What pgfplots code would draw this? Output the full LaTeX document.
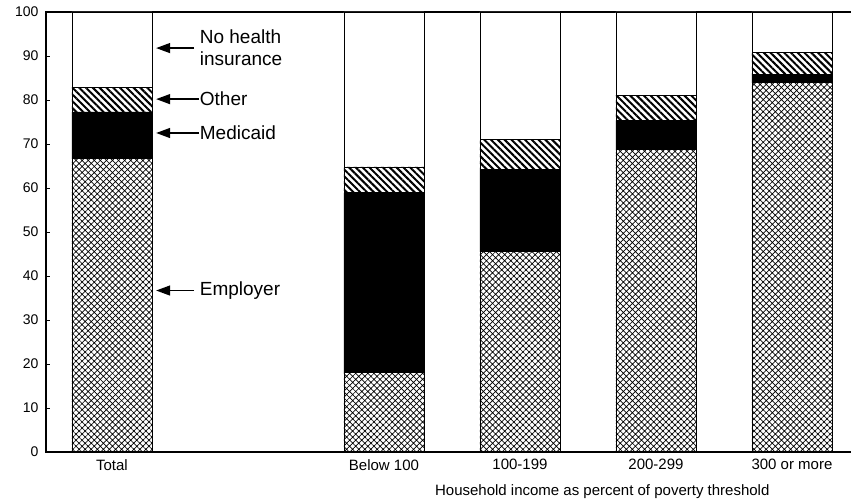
\documentclass[border=0pt]{standalone}
\usepackage{pgfplots}
\pgfplotsset{compat=1.18}
\usepackage{fontspec}
\setmainfont{Liberation Sans}
\usetikzlibrary{patterns.meta,arrows.meta}
\begin{document}
\begin{tikzpicture}
\useasboundingbox (0,0) rectangle (851bp,504bp);
\begin{axis}[
  at={(46bp,52bp)}, anchor=south west,
  scale only axis, width=808bp, height=440bp,
  xmin=-0.485, xmax=5.456, ymin=0, ymax=100,
  ybar stacked, bar width=80bp,
  axis line style={line width=1.3pt},
  ytick={0,10,...,100}, ytick pos=left, tick align=inside,
  major tick length=4bp, tick style={line width=0.8pt,black},
  xtick={0,2,3,4,5}, xticklabels={Total,Below 100,100-199,200-299,300 or more},
  x tick style={draw=none},
  /pgf/number format/assume math mode=true,
  yticklabel style={font=\fontsize{14bp}{16bp}\selectfont, xshift=-4bp},
  xticklabel style={font=\fontsize{15bp}{17bp}\selectfont, yshift=-4bp},
  clip=false,
]
\addplot[draw=black, line width=0.7pt, pattern={Hatch[angle=45,distance=4.3bp,line width=0.7pt]}]
  coordinates {(0,66.8) (2,18.0) (3,45.5) (4,68.8) (5,83.9)};
\addplot[draw=black, line width=0.7pt, fill=black]
  coordinates {(0,10.5) (2,40.9) (3,18.7) (4,6.5) (5,2.0)};
\addplot[draw=black, line width=0.7pt, pattern={Lines[angle=-45,distance=4.8bp,line width=2bp]}]
  coordinates {(0,5.6) (2,5.9) (3,6.9) (4,5.8) (5,4.9)};
\addplot[draw=black, line width=0.7pt, fill=white]
  coordinates {(0,17.1) (2,35.2) (3,28.9) (4,18.9) (5,9.2)};
\tikzset{ann/.style={-{Triangle[length=14bp,width=10bp]}, line width=1.4pt}}
\draw[ann] (axis cs:0.605,91.8) -- (axis cs:0.325,91.8);
\draw[ann] (axis cs:0.64,80.2) -- (axis cs:0.325,80.2);
\draw[ann] (axis cs:0.64,72.5) -- (axis cs:0.325,72.5);
\draw[ann] (axis cs:0.605,36.7) -- (axis cs:0.325,36.7);
\node[anchor=west, align=left, font=\fontsize{19bp}{22bp}\selectfont, inner sep=0pt] at (axis cs:0.645,91.8) {No health\\insurance};
\node[anchor=west, font=\fontsize{19bp}{22bp}\selectfont, inner sep=0pt] at (axis cs:0.645,80.2) {Other};
\node[anchor=west, font=\fontsize{19bp}{22bp}\selectfont, inner sep=0pt] at (axis cs:0.645,72.5) {Medicaid};
\node[anchor=west, font=\fontsize{19bp}{22bp}\selectfont, inner sep=0pt] at (axis cs:0.645,36.7) {Employer};
\node[font=\fontsize{15bp}{17bp}\selectfont, inner sep=0pt] at ([yshift=-40bp]axis cs:3.605,0) {Household income as percent of poverty threshold};
\end{axis}
\end{tikzpicture}
\end{document}
